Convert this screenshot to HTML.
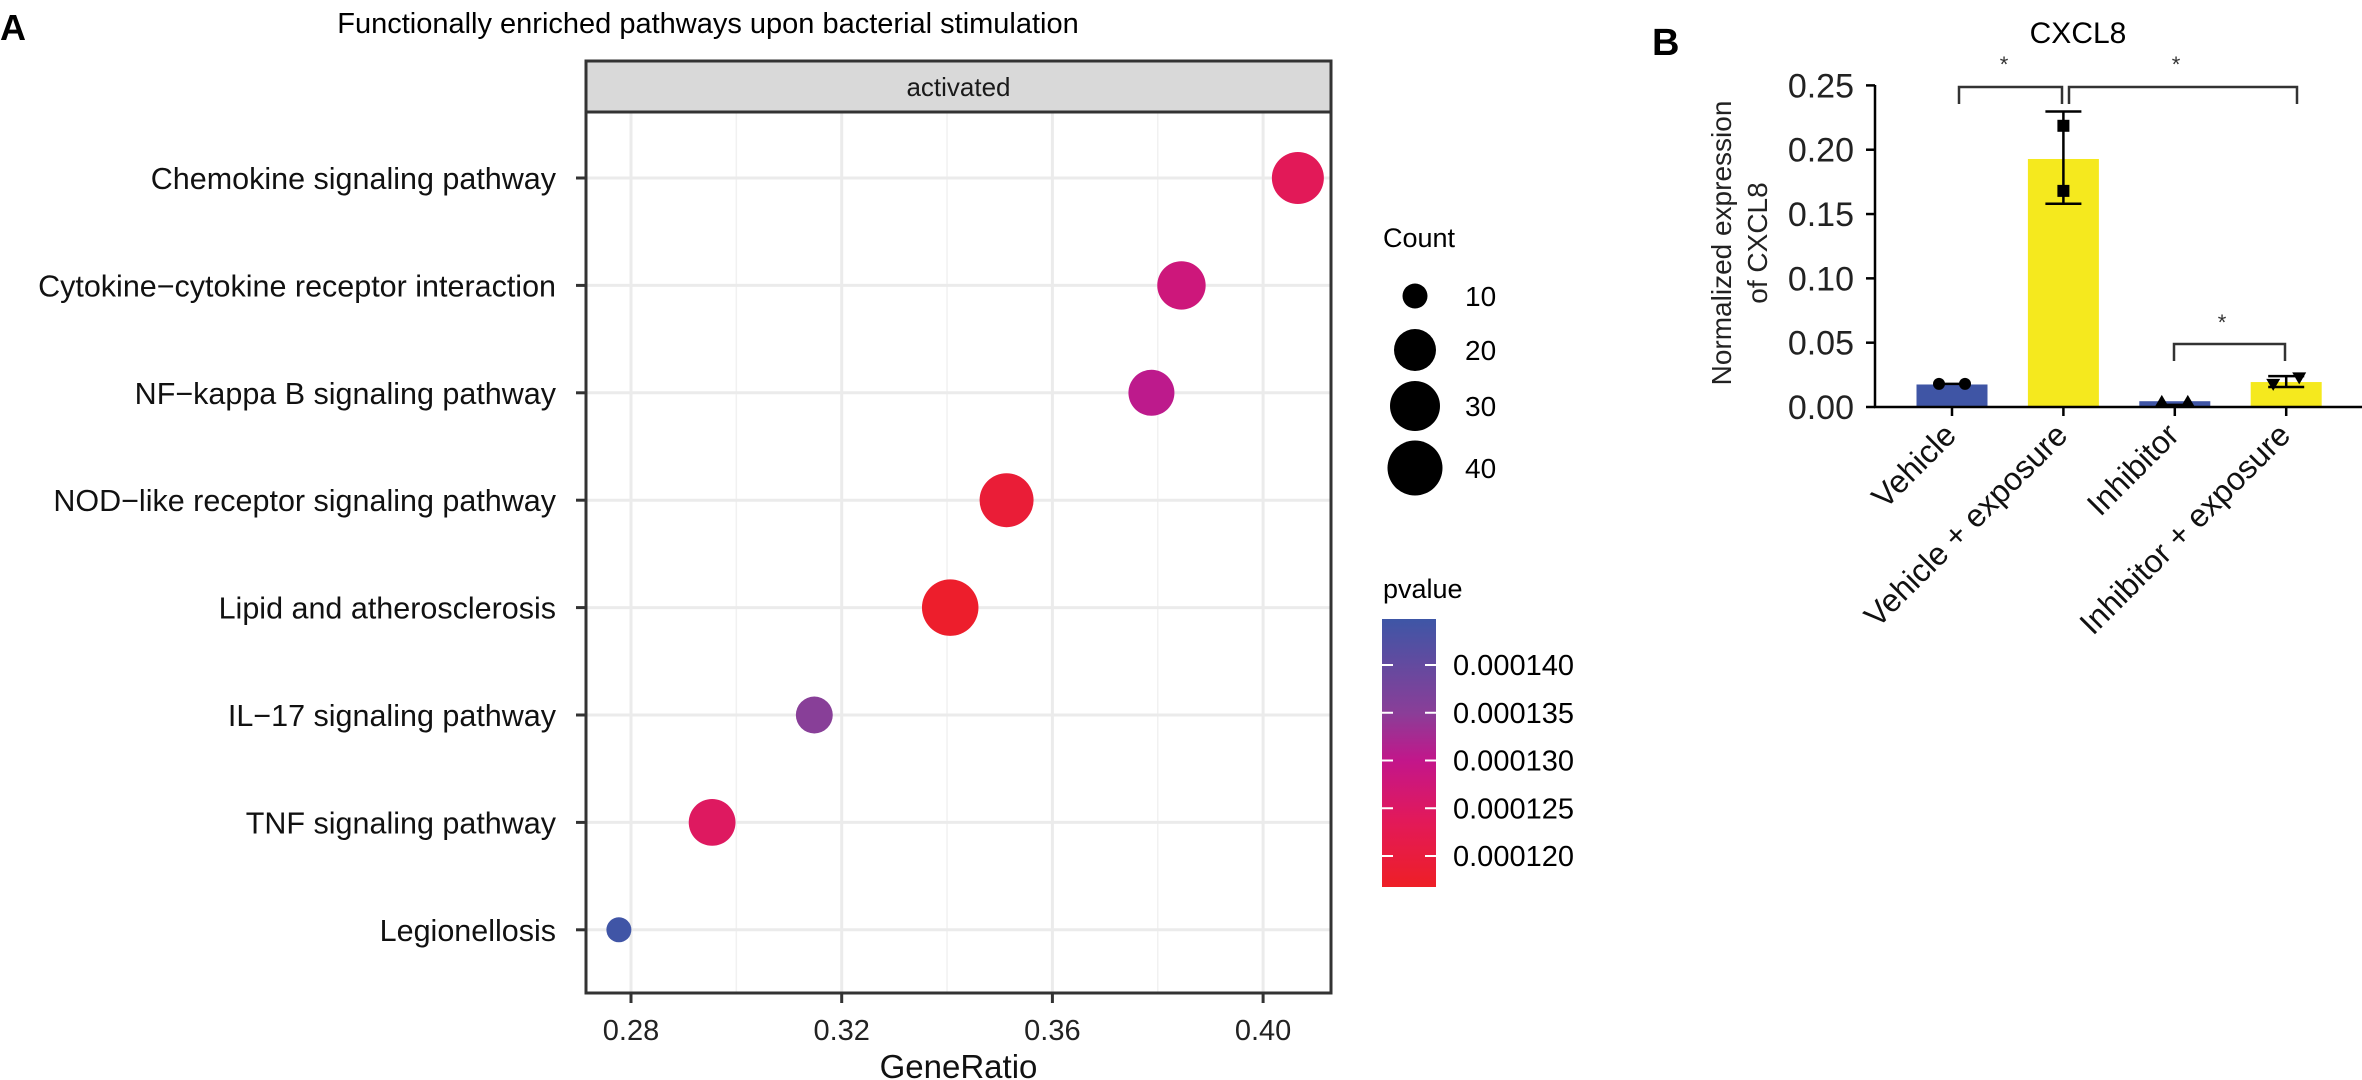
<!DOCTYPE html>
<html><head><meta charset="utf-8">
<style>
html,body{margin:0;padding:0;background:#fff;}
svg{display:block;font-family:"Liberation Sans",Arial,sans-serif;}
</style></head>
<body>
<svg id="fig" width="2362" height="1080" viewBox="0 0 2362 1080" xmlns="http://www.w3.org/2000/svg">
<defs>
<linearGradient id="pgrad" x1="0" y1="0" x2="0" y2="1">
<stop offset="0" stop-color="#3E56A6"/>
<stop offset="0.35" stop-color="#8A3E98"/>
<stop offset="0.53" stop-color="#C3168A"/>
<stop offset="0.75" stop-color="#E2195A"/>
<stop offset="1" stop-color="#EE1F26"/>
</linearGradient>
</defs>
<text x="0" y="40" font-size="36" font-weight="bold">A</text>
<text x="708" y="33" font-size="29" text-anchor="middle">Functionally enriched pathways upon bacterial stimulation</text>
<g id="gA"></g>
<g id="gLeg"></g>
<text x="1652" y="55" font-size="38" font-weight="bold">B</text>
<text x="2078" y="43" font-size="30" text-anchor="middle">CXCL8</text>
<g id="gB"></g>
</svg>
<script>
// ---------- Panel A data ----------
const pathways = ["Chemokine signaling pathway","Cytokine\u2212cytokine receptor interaction","NF\u2212kappa B signaling pathway","NOD\u2212like receptor signaling pathway","Lipid and atherosclerosis","IL\u221217 signaling pathway","TNF signaling pathway","Legionellosis"];
const geneRatio = [0.4066,0.3845,0.3788,0.3513,0.3406,0.3148,0.2954,0.2777];
const counts = [34,28,25,38,43,17,26,10];
const pvalues = [0.0001235,0.0001280,0.0001305,0.0001190,0.0001175,0.0001352,0.0001245,0.0001445];
const xTicks = [0.28,0.32,0.36,0.40];
const xTickLabels = ["0.28","0.32","0.36","0.40"];
const sizeBreaks = [10,20,30,40];
const pTicks = [0.000140,0.000135,0.000130,0.000125,0.000120];
const pTickLabels = ["0.000140","0.000135","0.000130","0.000125","0.000120"];
// ---------- Panel B data ----------
const groups = ["Vehicle","Vehicle + exposure","Inhibitor","Inhibitor + exposure"];
const means = [0.0175,0.1928,0.0045,0.0194];
const errLow = [null,0.158,null,0.0155];
const errHigh = [null,0.2297,null,0.024];
const rep1 = [0.018,0.2186,0.004,0.018];
const rep2 = [0.018,0.168,0.004,0.023];
const yTicks = [0,0.05,0.10,0.15,0.20,0.25];
const yTickLabels = ["0.00","0.05","0.10","0.15","0.20","0.25"];
const barColors = ["#3F55A5","#F5E91E","#3F55A5","#F5E91E"];
const markers = ["circle","square","triangle","tridown"];

const NS="http://www.w3.org/2000/svg";
function mk(parent,tag,attrs,text){const e=document.createElementNS(NS,tag);for(const k in attrs)e.setAttribute(k,attrs[k]);if(text!==undefined)e.textContent=text;parent.appendChild(e);return e;}

const pL=586,pR=1331,pT=112,pB=993;
const xA=v=>631+(v-0.28)/0.04*210.7;
const yA=i=>178+i*107.4;
const rBr=[12.5,21,25,27.5];
function rA(c){let i=0;if(c<=sizeBreaks[1])i=0;else if(c<=sizeBreaks[2])i=1;else i=2;
 return rBr[i]+(c-sizeBreaks[i])/(sizeBreaks[i+1]-sizeBreaks[i])*(rBr[i+1]-rBr[i]);}
const cStops=[[0,[0x3E,0x56,0xA6]],[0.35,[0x8A,0x3E,0x98]],[0.53,[0xC3,0x16,0x8A]],[0.75,[0xE2,0x19,0x5A]],[1,[0xEE,0x1F,0x26]]];
const barTop=619,barBot=887;
function pY(p){return 665+(0.000140-p)/0.000005*47.75;}
function pCol(p){let t=(pY(p)-barTop)/(barBot-barTop);t=Math.max(0,Math.min(1,t));
 for(let i=0;i<cStops.length-1;i++){const a=cStops[i],b=cStops[i+1];if(t<=b[0]){const f=(t-a[0])/(b[0]-a[0]);return "rgb("+a[1].map((v,j)=>Math.round(v+f*(b[1][j]-v))).join(",")+")";}}
 return "rgb(238,31,38)";}

const gA=document.getElementById('gA');
[0.30,0.34,0.38].forEach(v=>{const l=mk(gA,'line',{x1:xA(v),x2:xA(v),y1:pT,y2:pB,stroke:'#f1f1f1','stroke-width':1.5});

});
xTicks.forEach((v,i)=>{const l=mk(gA,'line',{x1:xA(v),x2:xA(v),y1:pT,y2:pB,stroke:'#ebebeb','stroke-width':3});


const t=mk(gA,'line',{x1:xA(v),x2:xA(v),y1:pB,y2:pB+10,stroke:'#333','stroke-width':3});


const tl=mk(gA,'text',{x:xA(v),y:pB+47,'font-size':29,'text-anchor':'middle',fill:'#222'},xTickLabels[i]);

});
pathways.forEach((p,i)=>{const l=mk(gA,'line',{x1:pL,x2:pR,y1:yA(i),y2:yA(i),stroke:'#ebebeb','stroke-width':3});


const t=mk(gA,'line',{x1:pL-10,x2:pL,y1:yA(i),y2:yA(i),stroke:'#333','stroke-width':3});


const tl=mk(gA,'text',{x:556,y:yA(i)+11,'font-size':30.5,'text-anchor':'end',fill:'#111'},p);

});
pathways.forEach((p,i)=>{const c=mk(gA,'circle',{cx:xA(geneRatio[i]),cy:yA(i),r:rA(counts[i]),fill:pCol(pvalues[i])});

});
const fr=mk(gA,'rect',{x:pL,y:pT,width:pR-pL,height:pB-pT,fill:'none',stroke:'#333','stroke-width':3});


const st=mk(gA,'rect',{x:pL,y:61,width:pR-pL,height:pT-61,fill:'#d9d9d9',stroke:'#333','stroke-width':3});


const stt=mk(gA,'text',{x:(pL+pR)/2,y:96,'font-size':26,'text-anchor':'middle',fill:'#1a1a1a'},'activated');


const xt=mk(gA,'text',{x:(pL+pR)/2,y:1078,'font-size':33,'text-anchor':'middle',fill:'#111'},'GeneRatio');



const gL=document.getElementById('gLeg');
const ct=mk(gL,'text',{x:1383,y:247,'font-size':27},'Count');


const legY=[296,350,406,468];
sizeBreaks.forEach((s,i)=>{const c=mk(gL,'circle',{cx:1415,cy:legY[i],r:rA(s),fill:'#000'});


const t=mk(gL,'text',{x:1465,y:legY[i]+10,'font-size':28},String(s));

});
const pt=mk(gL,'text',{x:1383,y:598,'font-size':27},'pvalue');


const cb=mk(gL,'rect',{x:1382,y:barTop,width:54,height:barBot-barTop,fill:'url(#pgrad)'});


pTicks.forEach((p,i)=>{const y=pY(p);
mk(gL,'line',{x1:1382,x2:1393,y1:y,y2:y,stroke:'#fff','stroke-width':2});
mk(gL,'line',{x1:1425,x2:1436,y1:y,y2:y,stroke:'#fff','stroke-width':2});
const t=mk(gL,'text',{x:1453,y:y+10,'font-size':29},pTickLabels[i]);

});

const gB=document.getElementById('gB');
const y0=407,pxPer=1286.4;
const yB=v=>y0-v*pxPer;
const xB=i=>1952+i*111.4;
const bw=71;
yTicks.forEach((v,i)=>{const t=mk(gB,'line',{x1:1866,x2:1875,y1:yB(v),y2:yB(v),stroke:'#000','stroke-width':2.5});


const tl=mk(gB,'text',{x:1854,y:yB(v)+12,'font-size':34,'text-anchor':'end',fill:'#222'},yTickLabels[i]);

});
groups.forEach((g,i)=>{const b=mk(gB,'rect',{x:xB(i)-bw/2,y:yB(means[i]),width:bw,height:yB(0)-yB(means[i]),fill:barColors[i]});


const tk=mk(gB,'line',{x1:xB(i),x2:xB(i),y1:y0,y2:y0+9,stroke:'#000','stroke-width':2.5});


const lx=xB(i)+6,ly=y0+30;
const tl=mk(gB,'text',{x:lx,y:ly,'font-size':32,'text-anchor':'end',transform:'rotate(-45 '+lx+' '+ly+')',fill:'#111'},g);


if(errLow[i]!==null){const e=mk(gB,'path',{d:`M${xB(i)},${yB(errLow[i])}V${yB(errHigh[i])}M${xB(i)-18},${yB(errLow[i])}h36M${xB(i)-18},${yB(errHigh[i])}h36`,stroke:'#000','stroke-width':2.5,fill:'none'});

}
[rep1[i],rep2[i]].forEach((v,k)=>{const dx=(markers[i]==='square')?0:(k===0?-13:13);const cx=xB(i)+dx,cy=yB(v);let m;
if(markers[i]==='circle')m=mk(gB,'circle',{cx:cx,cy:cy,r:6,fill:'#000'});
else if(markers[i]==='square')m=mk(gB,'rect',{x:cx-6,y:cy-6,width:12,height:12,fill:'#000'});
else if(markers[i]==='triangle')m=mk(gB,'path',{d:`M${cx},${cy-7}L${cx+7},${cy+5}L${cx-7},${cy+5}Z`,fill:'#000'});
else m=mk(gB,'path',{d:`M${cx},${cy+7}L${cx+7},${cy-5}L${cx-7},${cy-5}Z`,fill:'#000'});

});
if(markers[i]==='circle'){mk(gB,'line',{x1:xB(i)-13,x2:xB(i)+13,y1:yB(rep1[i]),y2:yB(rep1[i]),stroke:'#000','stroke-width':2.5});}
if(markers[i]==='triangle'){mk(gB,'line',{x1:xB(i)-13,x2:xB(i)+13,y1:yB(rep1[i])+3,y2:yB(rep1[i])+3,stroke:'#000','stroke-width':2.5});}
});
const ya=mk(gB,'line',{x1:1875,x2:1875,y1:85,y2:y0,stroke:'#000','stroke-width':2.5});


const xa=mk(gB,'line',{x1:1874,x2:2362,y1:y0,y2:y0,stroke:'#000','stroke-width':2.5});


const yt=mk(gB,'text',{'font-size':28,'text-anchor':'middle',transform:'translate(1731,243) rotate(-90)',fill:'#222'});


mk(yt,'tspan',{x:0,y:0},'Normalized expression');
mk(yt,'tspan',{x:0,y:36},'of CXCL8');
function bracket(x1,x2,yTop,yLeg,sx,sy){const b=mk(gB,'path',{d:`M${x1},${yLeg}V${yTop}H${x2}V${yLeg}`,stroke:'#333','stroke-width':2.5,fill:'none'});


const s=mk(gB,'text',{x:sx,y:sy,'font-size':22,'text-anchor':'middle',fill:'#333'},'*');

}
bracket(1959,2062,87,104,2004,72);
bracket(2069,2297,87,104,2176,72);
bracket(2174,2285,344,361,2222,330);
</script>
</body></html>
